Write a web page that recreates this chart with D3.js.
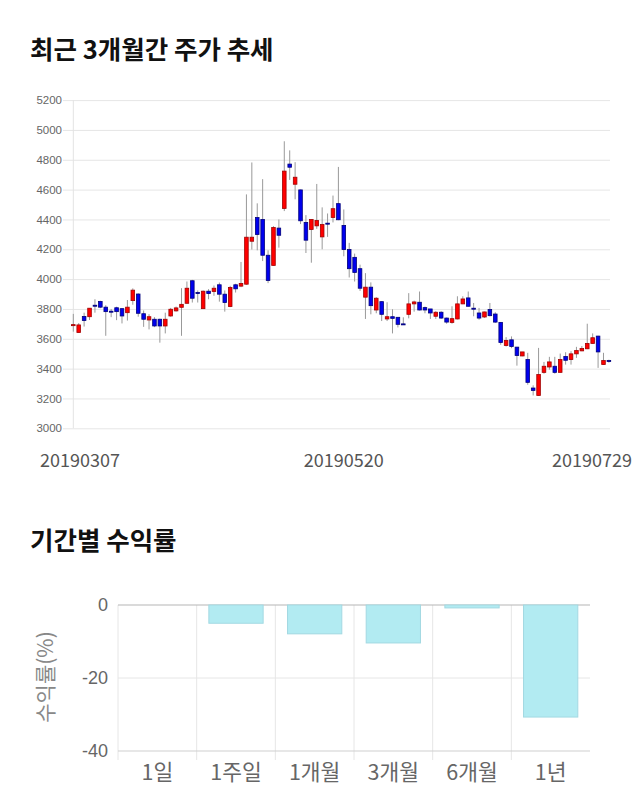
<!DOCTYPE html>
<html><head><meta charset="utf-8">
<script src="https://cdn.jsdelivr.net/npm/d3@7"></script>
<style>body{margin:0;background:#fff;} svg{display:block;}</style>
</head><body><svg id="c" width="640" height="810"></svg>
<script>
// ---- price data (daily candles, 20190307 .. 20190729) ----
const openP  = [3688,3642,3750,3748,3825,3850,3812,3785,3808,3802,3775,3856,3900,3768,3726,3731,3731,3686,3753,3787,
                3811,3838,3989,3910,3802,3919,3917,3962,3899,3816,3962,3953,3966,4254,4413,4400,4160,4092,4342,4474,
                4771,4636,4598,4380,4333,4357,4283,4375,4413,4506,4360,4198,4146,4070,3879,3946,3793,3849,3733,3748,
                3744,3700,3764,3834,3845,3809,3800,3751,3778,3739,3710,3733,3834,3874,3805,3773,3746,3796,3766,3710,
                3555,3593,3544,3485,3461,3270,3220,3375,3411,3416,3375,3481,3461,3499,3519,3533,3569,3618,3427,3454];
const highP  = [3767,3705,3775,3806,3865,3855,3825,3800,3815,3805,3860,3938,3905,3790,3765,3745,3735,3775,3807,3816,
                3939,3984,3995,3924,3924,3933,3957,3977,3924,3955,3969,4115,4568,4782,4508,4670,4193,4355,4400,4924,
                4863,4784,4600,4429,4402,4638,4481,4440,4560,4752,4467,4243,4171,4097,4040,3978,3879,3851,3845,3798,
                3746,3744,3906,3856,3917,3816,3800,3785,3785,3742,3818,3885,3885,3917,3840,3807,3782,3840,3778,3712,
                3611,3616,3546,3512,3506,3288,3539,3445,3479,3479,3501,3510,3517,3546,3551,3701,3636,3620,3506,3460];
const lowP   = [3648,3640,3682,3726,3775,3805,3620,3745,3725,3703,3722,3828,3748,3680,3663,3678,3574,3636,3748,3782,
                3620,3834,3843,3843,3800,3865,3888,3849,3782,3812,3910,3946,3962,4198,4193,4121,3973,4090,4211,4456,
                4665,4535,4369,4175,4110,4337,4200,4283,4380,4395,4153,4011,3984,3921,3733,3764,3771,3719,3719,3636,
                3676,3697,3737,3782,3790,3771,3733,3733,3733,3701,3701,3730,3832,3816,3751,3728,3740,3750,3706,3560,
                3548,3537,3420,3483,3292,3220,3218,3366,3393,3366,3373,3427,3427,3472,3517,3531,3567,3405,3425,3440];
const closeP = [3695,3693,3722,3805,3820,3812,3782,3780,3782,3753,3812,3926,3771,3731,3748,3686,3686,3731,3798,3807,
                3831,3939,3872,3906,3919,3903,3939,3899,3843,3944,3935,3971,4281,4281,4299,4160,3991,4346,4294,4724,
                4750,4683,4391,4261,4400,4393,4366,4371,4472,4398,4198,4070,4045,3939,3946,3822,3872,3764,3748,3737,
                3697,3698,3834,3847,3793,3793,3773,3778,3739,3712,3735,3834,3867,3818,3802,3739,3780,3755,3712,3575,
                3589,3548,3488,3512,3308,3254,3360,3416,3445,3375,3461,3456,3499,3521,3535,3569,3607,3512,3454,3450];
const priceTicks = [3000,3200,3400,3600,3800,4000,4200,4400,4600,4800,5000,5200];
const dateLabels = ["20190307","20190520","20190729"];
const dateLabelIdx = [0,50,99];

// ---- period returns ----
const periods = ["1일","1주일","1개월","3개월","6개월","1년"];
const returns = [0,-5.0,-7.9,-10.4,-0.8,-30.7];
const returnTicks = [0,-20,-40];

const svg = d3.select("#c");
const KR = "'Noto Sans CJK KR','Noto Sans',sans-serif";
const NUM = "'Liberation Sans',Arial,sans-serif";

// ---------- Top: candlestick ----------
svg.append("text").attr("x",30).attr("y",59).text("최근 3개월간 주가 추세")
  .attr("font-family",KR).attr("font-weight","bold").attr("font-size",25.5).attr("fill","#111");

const n = openP.length;
const x = d3.scalePoint().domain(d3.range(n)).range([73.3, 608.9]);
const y = d3.scaleLinear().domain([3000,5200]).range([428.3,100.1]);

const yAxis = d3.axisLeft(y).tickValues(priceTicks).tickSize(-(610-63)).tickPadding(1).tickFormat(d3.format("d"));
const gy = svg.append("g").attr("transform","translate(63,0)").call(yAxis);
gy.select(".domain").remove();
gy.selectAll(".tick line").attr("stroke","#e6e6e6");
gy.selectAll(".tick text").attr("font-family",NUM).attr("font-size",11.5).attr("fill","#666");
svg.append("line").attr("x1",73.3).attr("x2",73.3).attr("y1",100).attr("y2",428.3).attr("stroke","#e3e3e3");

const cg = svg.append("g");
d3.range(n).forEach(i=>{
  const o=openP[i], c=closeP[i], h=highP[i], l=lowP[i];
  const cx = x(i);
  cg.append("line").attr("x1",cx).attr("x2",cx).attr("y1",y(h)).attr("y2",y(l))
    .attr("stroke","#999").attr("stroke-width",1);
  const up = c>=o;
  const top = y(Math.max(o,c)), bot = y(Math.min(o,c));
  cg.append("rect").attr("x",cx-1.8).attr("width",3.6)
    .attr("y",top).attr("height",Math.max(1,bot-top))
    .attr("fill",up?"#ff0000":"#0000ee")
    .attr("stroke",up?"#a00000":"#00007a").attr("stroke-width",0.8);
});

// x labels
dateLabelIdx.forEach((idx,k)=>{
  const t = svg.append("text").text(dateLabels[k]).attr("y",467)
    .attr("font-family",KR).attr("font-size",18).attr("fill","#555").attr("text-anchor","middle");
  const w = t.node().getComputedTextLength();
  const cx = Math.min(Math.max(x(idx), 40 + w/2), 632 - w/2);
  t.attr("x",cx);
});

// ---------- Bottom: period returns ----------
svg.append("text").attr("x",30).attr("y",550).text("기간별 수익률")
  .attr("font-family",KR).attr("font-weight","bold").attr("font-size",25.5).attr("fill","#111");

const xb = d3.scaleBand().domain(periods).range([118,590]);
const yb = d3.scaleLinear().domain([-40,0]).range([751,605]);

// vertical grid lines at category boundaries
periods.forEach(p=>{
  svg.append("line").attr("x1",xb(p)).attr("x2",xb(p)).attr("y1",605).attr("y2",760)
    .attr("stroke","#e6e6e6");
});
returnTicks.forEach(t=>{
  svg.append("line").attr("x1",118).attr("x2",590).attr("y1",yb(t)).attr("y2",yb(t))
    .attr("stroke", t===0 ? "#b5b5b5" : (t===-40 ? "#cfcfcf" : "#e6e6e6"));
  svg.append("text").attr("x",108).attr("y",yb(t)).attr("dy","0.35em").attr("text-anchor","end")
    .text(t).attr("font-family",NUM).attr("font-size",18).attr("fill","#666");
});

const bw = xb.bandwidth()*0.69;
svg.append("g").selectAll("rect").data(periods).join("rect")
  .attr("x",p=>xb(p)+(xb.bandwidth()-bw)/2).attr("width",bw)
  .attr("y",yb(0)).attr("height",(p,i)=>yb(returns[i])-yb(0))
  .attr("fill","#b2ebf2").attr("stroke","#a3d9e2").attr("stroke-width",1)
  .attr("display",(p,i)=>returns[i]===0?"none":null);

periods.forEach(p=>{
  svg.append("text").attr("x",xb(p)+xb.bandwidth()/2).attr("y",772).attr("dy","0.35em")
    .attr("text-anchor","middle").text(p)
    .attr("font-family",KR).attr("font-size",21.5).attr("fill","#666");
});

svg.append("text").attr("transform","translate(46,677) rotate(-90)").attr("dy","0.35em")
  .attr("text-anchor","middle").text("수익률(%)")
  .attr("font-family",KR).attr("font-size",21).attr("fill","#888");
</script></body></html>
